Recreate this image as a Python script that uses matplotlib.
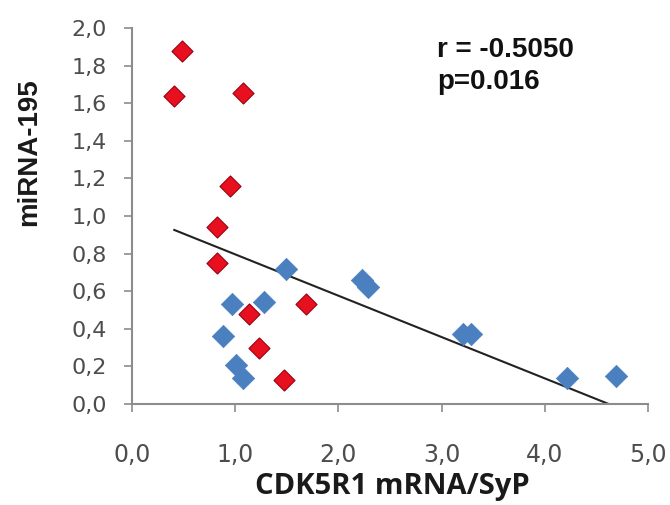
import numpy as np
import matplotlib
matplotlib.use("Agg")
import matplotlib.pyplot as plt

# group 1 (red) and group 2 (blue) samples
red_x = [0.48, 0.41, 1.08, 0.95, 0.82, 0.82, 1.13, 1.69, 1.23, 1.47]
red_y = [1.88, 1.64, 1.655, 1.16, 0.94, 0.75, 0.48, 0.53, 0.30, 0.13]
blue_x = [1.49, 2.23, 2.29, 0.97, 1.28, 0.88, 1.01, 1.08, 3.21, 3.29, 4.22, 4.69]
blue_y = [0.72, 0.66, 0.62, 0.53, 0.54, 0.36, 0.21, 0.14, 0.37, 0.37, 0.14, 0.15]

x_ticks = [0, 1, 2, 3, 4, 5]
y_ticks = [0.0, 0.2, 0.4, 0.6, 0.8, 1.0, 1.2, 1.4, 1.6, 1.8, 2.0]
stats_text = "r = -0.5050\np=0.016"

fig = plt.figure(figsize=(6.7, 5.05), dpi=100)
ax = fig.add_axes([0.197, 0.2, 0.77, 0.7446])

ax.scatter(red_x, red_y, marker="D", s=115, color="#e8101e", edgecolor="#9c0010",
           linewidth=0.8, zorder=3)
ax.scatter(blue_x, blue_y, marker="D", s=130, color="#4a7fc0", edgecolor="#4a7fc0",
           linewidth=0.5, zorder=3)

# linear trendline over all points
all_x = np.array(red_x + blue_x)
all_y = np.array(red_y + blue_y)
slope, icpt = np.polyfit(all_x, all_y, 1)
tx = np.array([all_x.min(), all_x.max()])
ax.plot(tx, slope * tx + icpt, color="#222222", linewidth=1.5, zorder=2)

ax.set_xlim(0, 5)
ax.set_ylim(0, 2)
ax.set_xticks(x_ticks)
ax.set_yticks(y_ticks)
ax.set_xticklabels([f"{v:.1f}".replace(".", ",") for v in x_ticks])
ax.set_yticklabels([f"{v:.1f}".replace(".", ",") for v in y_ticks])

for side in ("top", "right"):
    ax.spines[side].set_visible(False)
for side in ("left", "bottom"):
    ax.spines[side].set_color("#8c8c8c")
    ax.spines[side].set_linewidth(1.5)

ax.tick_params(axis="both", direction="out", length=6, width=1.2, color="#8c8c8c",
               labelcolor="#4d4d4d")
ax.tick_params(axis="y", pad=12, labelsize=16)
ax.tick_params(axis="x", pad=22, labelsize=17)
for lab in ax.get_xticklabels() + ax.get_yticklabels():
    lab.set_family("DejaVu Sans")

ax.set_xlabel("CDK5R1 mRNA/SyP", fontsize=21, fontweight="bold", family="Open Sans",
              color="#1a1a1a")
ax.set_ylabel("miRNA-195", fontsize=20, fontweight="bold", family="Liberation Sans",
              color="#1a1a1a")
ax.xaxis.set_label_coords(0.505, -0.18)
ax.yaxis.set_label_coords(-0.175, 0.67)

ax.text(0.592, 0.975, stats_text, transform=ax.transAxes, fontsize=20,
        fontweight="bold", family="Liberation Sans", va="top", ha="left",
        linespacing=1.28, color="#111111")

fig.savefig("out.png", dpi=100)
